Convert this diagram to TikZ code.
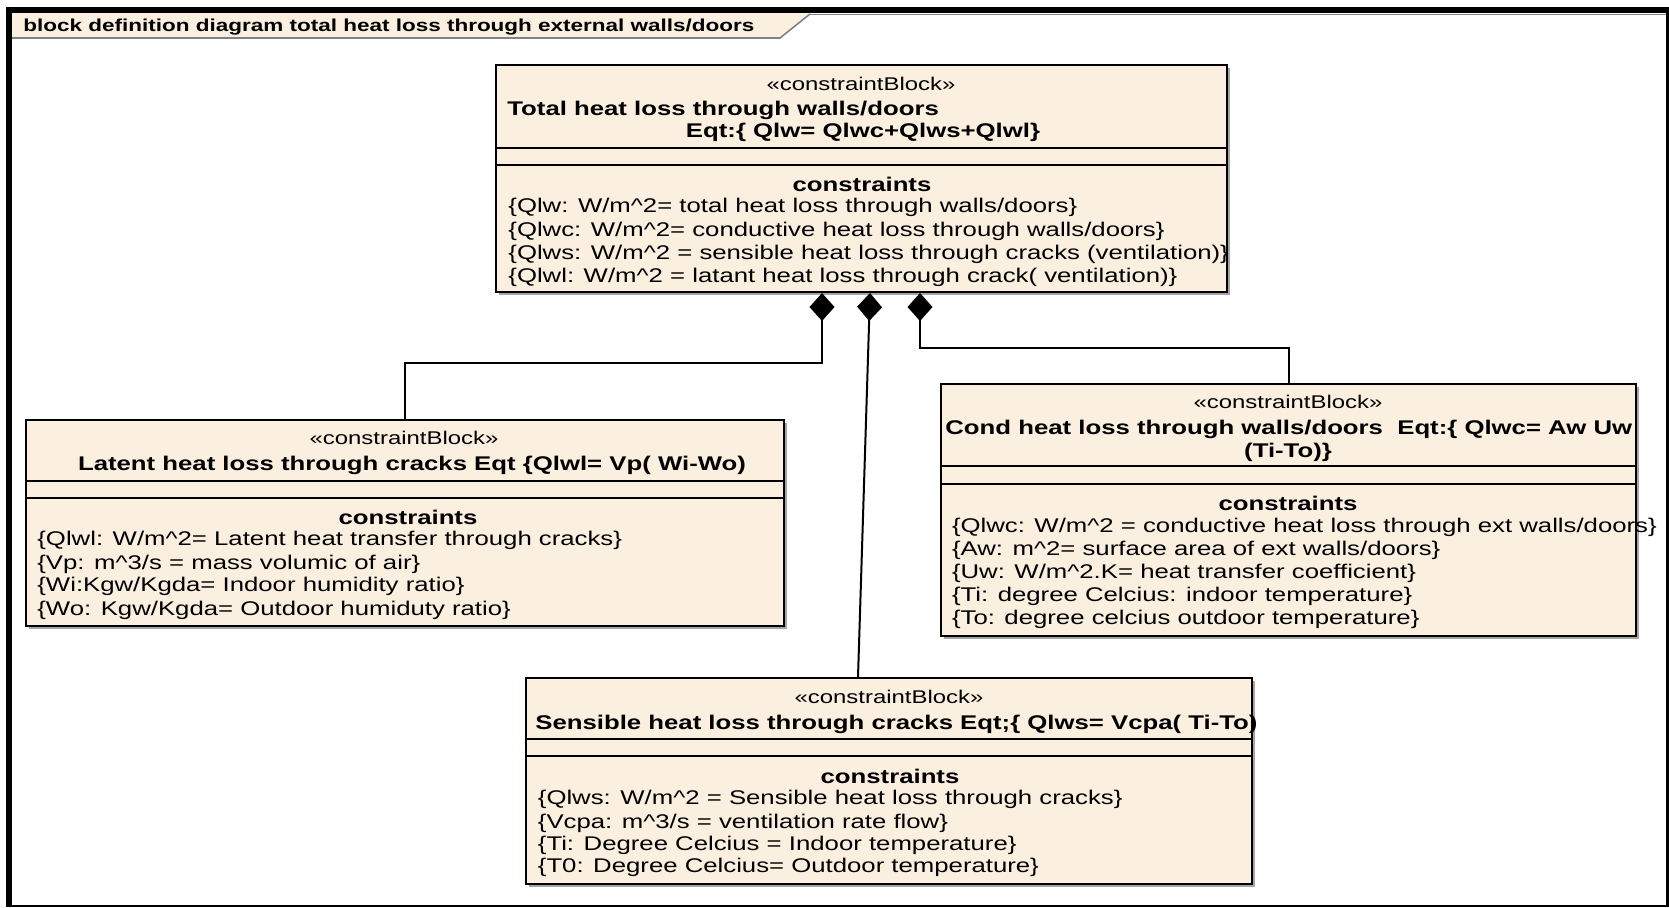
\documentclass[tikz,border=0pt]{standalone}
\usepackage{fontspec}
\setmainfont[FakeStretch=1.3]{Liberation Sans}
\usetikzlibrary{arrows.meta, positioning, calc}
\definecolor{blockc}{RGB}{251,239,224}
\definecolor{shadowc}{RGB}{165,165,165}
\definecolor{tabline}{RGB}{130,130,130}

\begin{document}
\begin{tikzpicture}[x=0.5pt, y=-0.5pt,
    blk/.style={draw, fill=blockc, line width=1pt, inner sep=0pt, anchor=north west},
    txt/.style={inner sep=0pt, text height=7.2pt, text depth=0pt, font=\fontsize{9.9pt}{11.5pt}\selectfont},
    bold/.style={txt, font=\fontsize{9.9pt}{11.5pt}\selectfont\bfseries},
    stereo/.style={txt, font=\fontsize{9.2pt}{11pt}\selectfont},
    cline/.style={txt, anchor=west},
    comp/.style={line width=1pt, {Diamond[length=14pt,width=12.5pt]}-}]
  \useasboundingbox (0,0) rectangle (1669,907);
  \fill[white] (0,0) rectangle (1669,907);

  % diagram tab
  \fill[blockc] (12,13) -- (810,13) -- (780,38) -- (12,38) -- cycle;
  \draw[tabline, line width=0.8pt] (810,14) -- (780,38) -- (12,38);
  \draw[tabline, line width=0.6pt] (810,14.5) -- (1666,14.5);
  \node[txt, anchor=west, font=\fontsize{8.65pt}{10pt}\selectfont\bfseries] (frametitle) at (23,24)
    {block definition diagram total heat loss through external walls/doors};

  % shadows
  \fill[shadowc] (499,68) rectangle (1230,295);
  \fill[shadowc] (29,423) rectangle (787,629);
  \fill[shadowc] (944,387) rectangle (1639,639);
  \fill[shadowc] (529,681) rectangle (1255,887);

  % blocks
  \node[blk, minimum width=365.5pt, minimum height=113.5pt] (total) at (495,64) {};
  \node[blk, minimum width=379pt, minimum height=103pt] (latent) at (25,419) {};
  \node[blk, minimum width=347.5pt, minimum height=126pt] (cond) at (940,383) {};
  \node[blk, minimum width=363pt, minimum height=103pt] (sens) at (525,677) {};

  % compartments
  \draw[line width=1pt] (total.west |- 0,148) -- (total.east |- 0,148);
  \draw[line width=1pt] (total.west |- 0,165) -- (total.east |- 0,165);
  \draw[line width=1pt] (latent.west |- 0,481) -- (latent.east |- 0,481);
  \draw[line width=1pt] (latent.west |- 0,498) -- (latent.east |- 0,498);
  \draw[line width=1pt] (cond.west |- 0,466) -- (cond.east |- 0,466);
  \draw[line width=1pt] (cond.west |- 0,484) -- (cond.east |- 0,484);
  \draw[line width=1pt] (sens.west |- 0,739) -- (sens.east |- 0,739);
  \draw[line width=1pt] (sens.west |- 0,756) -- (sens.east |- 0,756);

  % total heat loss block
  \node[stereo] (totst) at (861,83) {«constraintBlock»};
  \node[bold, anchor=west] (totn1) at (507,108.6) {Total heat loss through walls/doors};
  \node[bold] (totn2) at (863,130) {Eqt:\{ Qlw= Qlwc+Qlws+Qlwl\}};
  \node[bold] (totcs) at (862,184) {constraints};
  \node[cline] (totc1) at (508,205) {\{Qlw: W/m\textasciicircum2= total heat loss through walls/doors\}};
  \node[cline] (totc2) at (508,229) {\{Qlwc: W/m\textasciicircum2= conductive heat loss through walls/doors\}};
  \node[cline] (totc3) at (508,252) {\{Qlws: W/m\textasciicircum2 = sensible heat loss through cracks (ventilation)\}};
  \node[cline] (totc4) at (508,275) {\{Qlwl: W/m\textasciicircum2 = latant heat loss through crack( ventilation)\}};

  % latent block
  \node[stereo] (latst) at (404,437.5) {«constraintBlock»};
  \node[bold] (latn) at (412,463) {Latent heat loss through cracks Eqt \{Qlwl= Vp( Wi-Wo)};
  \node[bold] (latcs) at (408,517) {constraints};
  \node[cline] (latc1) at (37,538.6) {\{Qlwl: W/m\textasciicircum2= Latent heat transfer through cracks\}};
  \node[cline] (latc2) at (37,562) {\{Vp: m\textasciicircum3/s = mass volumic of air\}};
  \node[cline] (latc3) at (37,584) {\{Wi:Kgw/Kgda= Indoor humidity ratio\}};
  \node[cline] (latc4) at (37,608) {\{Wo: Kgw/Kgda= Outdoor humiduty ratio\}};

  % conductive block
  \node[stereo] (const) at (1288,401) {«constraintBlock»};
  \node[bold, anchor=west] (conn1) at (945,427) {Cond heat loss through walls/doors\ \ Eqt:\{ Qlwc= Aw Uw};
  \node[bold] (conn2) at (1288,450) {(Ti-To)\}};
  \node[bold] (concs) at (1288,503.5) {constraints};
  \node[cline] (conc1) at (951.6,525) {\{Qlwc: W/m\textasciicircum2 = conductive heat loss through ext walls/doors\}};
  \node[cline] (conc2) at (951.6,548) {\{Aw: m\textasciicircum2= surface area of ext walls/doors\}};
  \node[cline] (conc3) at (951.6,571.6) {\{Uw: W/m\textasciicircum2.K= heat transfer coefficient\}};
  \node[cline] (conc4) at (951.6,594) {\{Ti: degree Celcius: indoor temperature\}};
  \node[cline] (conc5) at (951.6,617) {\{To: degree celcius outdoor temperature\}};

  % sensible block
  \node[stereo] (sensst) at (889,696) {«constraintBlock»};
  \node[bold, anchor=west] (sensn) at (535,722) {Sensible heat loss through cracks Eqt;\{ Qlws= Vcpa( Ti-To)};
  \node[bold] (senscs) at (890,776) {constraints};
  \node[cline] (sensc1) at (537.5,797) {\{Qlws: W/m\textasciicircum2 = Sensible heat loss through cracks\}};
  \node[cline] (sensc2) at (537.5,821) {\{Vcpa: m\textasciicircum3/s = ventilation rate flow\}};
  \node[cline] (sensc3) at (537.5,843) {\{Ti: Degree Celcius = Indoor temperature\}};
  \node[cline] (sensc4) at (537.5,865) {\{T0: Degree Celcius= Outdoor temperature\}};

  % composition connectors
  \coordinate (bendl) at (822,363);
  \coordinate (bendr) at (920,348);
  \draw[comp] (total.south -| bendl) -- (bendl) -| (latent.north);
  \draw[comp] (total.south -| 870,0) -- (sens.north -| 858,0);
  \draw[comp] (total.south -| bendr) -- (bendr) -| (cond.north);

  % frame
  \fill[black] (6,7) rectangle (1669,13);
  \fill[black] (6,7) rectangle (12,907);
  \fill[black] (1666,7) rectangle (1669,907);
  \draw[line width=1pt] (6,905.5) -- (1669,905.5);
\end{tikzpicture}
\end{document}
